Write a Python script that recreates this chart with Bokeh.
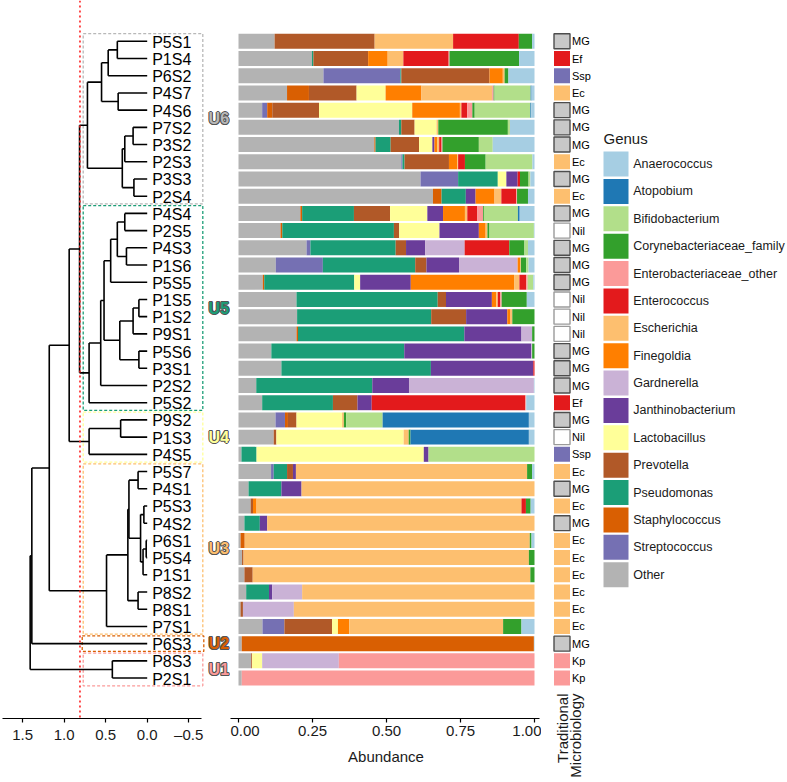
import math
from bokeh.plotting import figure
from bokeh.models import Range1d, ColumnDataSource, Span, FixedTicker
from bokeh.layouts import row
from bokeh.embed import file_html
from bokeh.resources import INLINE
from bokeh.core.properties import value

# ---------------- data ----------------
samples = ["P5S1", "P1S4", "P6S2", "P4S7", "P4S6", "P7S2", "P3S2", "P2S3", "P3S3", "P2S4",
           "P4S4", "P2S5", "P4S3", "P1S6", "P5S5", "P1S5", "P1S2", "P9S1", "P5S6", "P3S1",
           "P2S2", "P5S2", "P9S2", "P1S3", "P4S5", "P5S7", "P4S1", "P5S3", "P4S2", "P6S1",
           "P5S4", "P1S1", "P8S2", "P8S1", "P7S1", "P6S3", "P8S3", "P2S1"]

traditional = ["MG", "Ef", "Ssp", "Ec", "MG", "MG", "MG", "Ec", "MG", "Ec",
               "MG", "Nil", "MG", "MG", "MG", "Nil", "Nil", "Nil", "MG", "MG",
               "MG", "Ef", "MG", "Nil", "Ssp", "Ec", "MG", "Ec", "MG", "Ec",
               "Ec", "Ec", "Ec", "Ec", "Ec", "MG", "Kp", "Kp"]

clusters = ["U6", "U5", "U4", "U3", "U2", "U1"]
cluster_first = ["P5S1", "P4S4", "P9S2", "P5S7", "P6S3", "P8S3"]
cluster_last = ["P2S4", "P5S2", "P4S5", "P7S1", "P6S3", "P2S1"]
cluster_colors = ["#B8B8B8", "#1B9E77", "#FFFF99", "#FDBF6F", "#D95F02", "#FB9A99"]
cut_height = 0.81

# dendrogram merges (bottom-up), heights
dend_node = ["a1", "a2", "a3", "a4", "b1", "b2", "b3", "b4", "u6",
             "c1", "c2", "c3", "c4", "d1", "d2", "d3", "d4", "c5", "c6", "u5", "u65",
             "e1", "u4", "u654",
             "f1", "f2", "f3", "f4", "f5", "f6", "f7", "f8", "u3", "u6543",
             "g", "u1", "root"]
dend_left = ["P5S1", "a1", "P4S7", "a2", "P7S2", "b1", "P3S3", "b2", "a4",
             "P4S4", "P4S3", "c1", "c3", "P1S5", "d1", "P5S6", "d2", "c4", "c5", "c6", "u6",
             "P9S2", "e1", "u65",
             "P5S7", "P5S3", "P6S1", "f3", "f2", "f1", "P8S2", "f6", "f8", "u654",
             "u6543", "P8S3", "g"]
dend_right = ["P1S4", "P6S2", "P4S6", "a3", "P3S2", "P2S3", "P2S4", "b3", "b4",
              "P2S5", "P1S6", "c2", "P5S5", "P1S2", "P9S1", "P3S1", "d3", "d4", "P2S2", "P5S2", "u5",
              "P1S3", "P4S5", "u4",
              "P4S1", "P4S2", "P5S4", "P1S1", "f4", "f5", "P8S1", "f7", "P7S1", "u3",
              "P6S3", "P2S1", "u1"]
dend_height = [0.36, 0.47, 0.35, 0.55, 0.17, 0.27, 0.16, 0.30, 0.72,
               0.27, 0.25, 0.36, 0.44, 0.10, 0.17, 0.10, 0.33, 0.52, 0.56, 0.70, 0.815,
               0.32, 0.70, 0.94,
               0.11, 0.04, 0.012, 0.05, 0.08, 0.22, 0.11, 0.233, 0.49, 1.18,
               1.39, 0.42, 1.41]

# genus abundances, in sample order
other = [0.122, 0.248, 0.287, 0.164, 0.080, 0.542, 0.459, 0.550, 0.615, 0.657,
         0.209, 0.142, 0.230, 0.126, 0.082, 0.196, 0.198, 0.196, 0.111, 0.145,
         0.060, 0.080, 0.125, 0.119, 0.010, 0.110, 0.034, 0.041, 0.020, 0.007,
         0.012, 0.020, 0.026, 0.007, 0.081, 0.011, 0.043, 0.011]
streptococcus = [0, 0, 0.260, 0, 0.017, 0, 0, 0.004, 0.127, 0,
                 0, 0, 0.013, 0.159, 0, 0, 0, 0, 0, 0,
                 0, 0, 0.032, 0, 0, 0.009, 0, 0, 0, 0,
                 0, 0, 0, 0, 0.074, 0, 0, 0]
staphylococcus = [0, 0, 0, 0.074, 0.017, 0, 0.004, 0, 0, 0.029,
                  0.006, 0.006, 0, 0, 0.005, 0, 0, 0.005, 0, 0,
                  0, 0, 0.010, 0, 0, 0, 0, 0, 0, 0.014,
                  0, 0, 0, 0, 0, 0.987, 0, 0]
pseudomonas = [0, 0.005, 0.003, 0, 0, 0.008, 0.051, 0.007, 0.134, 0.082,
               0.175, 0.377, 0.288, 0.312, 0.304, 0.477, 0.453, 0.562, 0.449, 0.505,
               0.392, 0.239, 0, 0, 0.051, 0.045, 0.111, 0, 0.052, 0,
               0, 0, 0.077, 0, 0, 0, 0, 0]
prevotella = [0.338, 0.185, 0.298, 0.161, 0.158, 0.045, 0.096, 0.150, 0, 0,
              0.122, 0.018, 0.035, 0.038, 0, 0.028, 0.118, 0, 0, 0,
              0, 0.083, 0.029, 0.009, 0, 0.020, 0, 0.008, 0, 0,
              0.005, 0.028, 0, 0.008, 0.161, 0, 0.003, 0]
lactobacillus = [0, 0, 0, 0.098, 0.315, 0.074, 0.045, 0, 0.029, 0,
                 0.126, 0.136, 0, 0, 0.020, 0, 0, 0, 0, 0,
                 0, 0, 0.154, 0.430, 0.565, 0, 0, 0, 0, 0,
                 0, 0, 0, 0, 0.020, 0, 0.034, 0]
janthinobacterium = [0, 0, 0, 0, 0, 0, 0.007, 0, 0.038, 0.033,
                     0.053, 0.133, 0.065, 0.110, 0.171, 0.155, 0.139, 0.193, 0.429, 0.346,
                     0.124, 0.048, 0, 0, 0.016, 0.010, 0.068, 0, 0.025, 0,
                     0, 0, 0.011, 0, 0, 0, 0, 0]
gardnerella = [0, 0, 0, 0, 0, 0, 0, 0, 0, 0,
               0, 0, 0.133, 0.198, 0, 0, 0, 0.036, 0.003, 0,
               0.422, 0, 0, 0, 0, 0, 0, 0, 0, 0,
               0, 0, 0.101, 0.172, 0, 0, 0.259, 0]
finegoldia = [0, 0.066, 0.045, 0.121, 0.161, 0, 0.009, 0.028, 0, 0.064,
              0.074, 0.023, 0, 0.009, 0.349, 0.015, 0.011, 0, 0, 0,
              0, 0, 0, 0, 0, 0, 0, 0.012, 0, 0,
              0, 0, 0, 0, 0.038, 0, 0, 0]
escherichia = [0.265, 0.053, 0.006, 0.239, 0.005, 0.006, 0.007, 0.003, 0, 0.023,
               0.008, 0.006, 0, 0.002, 0.018, 0.005, 0.006, 0, 0, 0,
               0, 0, 0.006, 0.017, 0, 0.781, 0.787, 0.895, 0.903, 0.963,
               0.964, 0.938, 0.785, 0.813, 0.520, 0, 0, 0]
enterococcus = [0.222, 0.153, 0, 0, 0.020, 0, 0.008, 0.023, 0.008, 0.050,
                0.034, 0, 0.151, 0, 0.023, 0.008, 0, 0, 0, 0.004,
                0, 0.519, 0, 0, 0, 0, 0, 0.015, 0, 0,
                0, 0, 0, 0, 0, 0, 0, 0]
enterobacteriaceae_other = [0, 0.003, 0, 0.005, 0.017, 0, 0.003, 0, 0, 0.003,
                            0.019, 0, 0, 0, 0.005, 0.005, 0, 0, 0, 0,
                            0, 0.003, 0, 0, 0, 0, 0, 0, 0, 0,
                            0, 0, 0, 0, 0, 0, 0.661, 0.989]
corynebacteriaceae = [0.045, 0.235, 0.013, 0.003, 0.008, 0.235, 0.123, 0.070, 0.029, 0.037,
                      0.003, 0.007, 0.051, 0.018, 0, 0.085, 0.075, 0.008, 0.008, 0,
                      0, 0, 0.008, 0.006, 0, 0.017, 0, 0.016, 0, 0.006,
                      0.019, 0.014, 0, 0, 0.062, 0, 0, 0]
bifidobacterium = [0, 0, 0, 0.122, 0.188, 0.007, 0.047, 0.158, 0.006, 0,
                   0.115, 0.150, 0.012, 0.008, 0.019, 0, 0, 0, 0, 0,
                   0, 0, 0.123, 0, 0.358, 0, 0, 0, 0, 0,
                   0, 0, 0, 0, 0, 0, 0, 0]
atopobium = [0, 0, 0, 0.003, 0.003, 0, 0, 0, 0, 0,
             0.006, 0, 0, 0, 0, 0, 0, 0, 0, 0,
             0, 0, 0.494, 0.400, 0, 0, 0, 0, 0, 0,
             0, 0, 0, 0, 0, 0, 0, 0]
anaerococcus = [0.008, 0.052, 0.088, 0.010, 0.011, 0.083, 0.141, 0.007, 0.014, 0.022,
                0.050, 0.002, 0.022, 0.020, 0.004, 0.026, 0, 0, 0, 0,
                0.002, 0.028, 0.019, 0.019, 0, 0.008, 0, 0.013, 0, 0.010,
                0, 0, 0, 0, 0.044, 0.002, 0, 0]

legend_names = ["Anaerococcus", "Atopobium", "Bifidobacterium", "Corynebacteriaceae_family",
                "Enterobacteriaceae_other", "Enterococcus", "Escherichia", "Finegoldia",
                "Gardnerella", "Janthinobacterium", "Lactobacillus", "Prevotella",
                "Pseudomonas", "Staphylococcus", "Streptococcus", "Other"]
legend_colors = ["#A6CEE3", "#1F78B4", "#B2DF8A", "#33A02C", "#FB9A99", "#E31A1C", "#FDBF6F",
                 "#FF7F00", "#CAB2D6", "#6A3D9A", "#FFFF99", "#B15928", "#1B9E77", "#D95F02",
                 "#7570B3", "#B3B3B3"]
genus_values = {
    "Anaerococcus": anaerococcus, "Atopobium": atopobium, "Bifidobacterium": bifidobacterium,
    "Corynebacteriaceae_family": corynebacteriaceae,
    "Enterobacteriaceae_other": enterobacteriaceae_other, "Enterococcus": enterococcus,
    "Escherichia": escherichia, "Finegoldia": finegoldia, "Gardnerella": gardnerella,
    "Janthinobacterium": janthinobacterium, "Lactobacillus": lactobacillus,
    "Prevotella": prevotella, "Pseudomonas": pseudomonas, "Staphylococcus": staphylococcus,
    "Streptococcus": streptococcus, "Other": other,
}
trad_fill = {"MG": "#C8C8C8", "Nil": "#FFFFFF", "Ef": "#E31A1C", "Ssp": "#7570B3",
             "Ec": "#FDBF6F", "Kp": "#FB9A99"}
trad_line = {"MG": "#4D4D4D", "Nil": "#9A9A9A", "Ef": None, "Ssp": None, "Ec": None, "Kp": None}
trad_title = ["Traditional", "Microbiology"]

# ---------------- layout constants (page pixels) ----------------
FONT = "Liberation Sans"
N = len(samples)
TOP = N - 1
ROW_PX = 17.21
ROW0 = 40.8          # centre of first row, px below page top
FIG_H = 780
AXIS_Y = 718         # bottom of every plot frame (axis line position)
BAR_H = 0.87


def yrange():
    return Range1d(start=TOP - (AXIS_Y - ROW0) / ROW_PX, end=TOP + ROW0 / ROW_PX)


def make_fig(w, xr, yr, xaxis):
    p = figure(width=w, height=FIG_H, x_range=xr, y_range=yr, output_backend="svg",
               toolbar_location=None, x_axis_location=("below" if xaxis else None),
               y_axis_location=None, min_border_left=0, min_border_right=0,
               min_border_top=0, min_border_bottom=(FIG_H - AXIS_Y))
    p.outline_line_color = None
    p.background_fill_color = "white"
    p.border_fill_color = "white"
    for g in p.grid:
        g.visible = False
    return p


def style_axis(ax, ticks, labels, bounds):
    ax.ticker = FixedTicker(ticks=ticks)
    ax.major_label_overrides = {t: l for t, l in zip(ticks, labels)}
    ax.bounds = bounds
    ax.axis_line_color = "black"
    ax.axis_line_width = 1.2
    ax.major_tick_line_color = "black"
    ax.major_tick_line_width = 1.2
    ax.major_tick_out = 4
    ax.major_tick_in = 0
    ax.minor_tick_line_color = None
    ax.major_label_text_font = FONT
    ax.major_label_text_font_size = "15px"
    ax.major_label_text_color = "#1a1a1a"
    ax.major_label_standoff = 3


row_y = {s: TOP - i for i, s in enumerate(samples)}

# ---------------- dendrogram ----------------
D_W = 230
H_PER_PX = 83.0
LEAF_PX = 146.7
dend = make_fig(D_W, Range1d(start=LEAF_PX / H_PER_PX, end=(LEAF_PX - D_W) / H_PER_PX),
                yrange(), True)
style_axis(dend.xaxis[0], [1.5, 1.0, 0.5, 0.0, -0.5], ["1.5", "1.0", "0.5", "0.0", "\u20130.5"],
           (-0.65, (LEAF_PX - 2) / H_PER_PX))

info = {}
seg = dict(x0=[], y0=[], x1=[], y1=[])
for n, l, r, h in zip(dend_node, dend_left, dend_right, dend_height):
    yl, hl = info[l] if l in info else (row_y[l], 0.0)
    yr_, hr = info[r] if r in info else (row_y[r], 0.0)
    for (a, b, c, d) in [(hl, yl, h, yl), (hr, yr_, h, yr_), (h, yl, h, yr_)]:
        seg["x0"].append(a); seg["y0"].append(b); seg["x1"].append(c); seg["y1"].append(d)
    info[n] = ((yl + yr_) / 2.0, h)

# cluster boxes
pad = 0.45
boxes = dict(left=[], right=[], top=[], bottom=[], color=[])
for name, f, l, c in zip(clusters, cluster_first, cluster_last, cluster_colors):
    wide = 0.012 if f == l else 0.0
    boxes["left"].append(0.771 + wide)
    boxes["right"].append(-0.67 - wide)
    boxes["top"].append(row_y[f] + pad)
    boxes["bottom"].append(row_y[l] - pad)
    boxes["color"].append(c)
dend.quad(left="left", right="right", top="top", bottom="bottom", source=ColumnDataSource(boxes),
          fill_color=None, line_color="color", line_dash="3 2", line_width=1.3)

dend.add_layout(Span(location=cut_height, dimension="height", line_color="#FF2020",
                     line_dash="2 3", line_width=1.6))
dend.segment(x0="x0", y0="y0", x1="x1", y1="y1", source=ColumnDataSource(seg),
             line_color="black", line_width=1.6)

dend.text(x=[0.0] * N, y=[row_y[s] for s in samples], text=samples, x_offset=5, y_offset=1,
          text_font=value(FONT), text_font_size="16px", text_baseline="middle",
          text_align="left", text_color="black")

lab_x = [-0.74] * len(clusters)
lab_y = [(row_y[f] + row_y[l]) / 2.0 for f, l in zip(cluster_first, cluster_last)]
for dx, dy in [(-1, 0), (1, 0), (0, -1), (0, 1), (-0.7, -0.7), (0.7, 0.7), (-0.7, 0.7), (0.7, -0.7)]:
    dend.text(x=lab_x, y=lab_y, text=clusters, x_offset=dx, y_offset=dy,
              text_font=value(FONT), text_font_size="16px", text_font_style="bold",
              text_baseline="middle", text_align="left", text_color="#555555")
dend.text(x=lab_x, y=lab_y, text=clusters, text_font=value(FONT), text_font_size="16px",
          text_font_style="bold", text_baseline="middle", text_align="left",
          text_color=cluster_colors)

# ---------------- stacked bars ----------------
B_W = 311
B_PX = 296.0
B_X0 = 8.0
bars = make_fig(B_W, Range1d(start=-B_X0 / B_PX, end=(B_W - B_X0) / B_PX), yrange(), True)
style_axis(bars.xaxis[0], [0, 0.25, 0.5, 0.75, 1.0], ["0.00", "0.25", "0.50", "0.75", "1.00"],
           (-B_X0 / B_PX, 1.017))
bars.xaxis.axis_label = "Abundance"
bars.xaxis.axis_label_text_font = FONT
bars.xaxis.axis_label_text_font_size = "15px"
bars.xaxis.axis_label_text_font_style = "normal"
bars.xaxis.axis_label_text_color = "#1a1a1a"
bars.xaxis.axis_label_standoff = 9

stack_order = ["Other"] + list(reversed(legend_names[:-1]))
stack_colors = [legend_colors[legend_names.index(g)] for g in stack_order]
bar_src = dict(y=[row_y[s] for s in samples])
for g in stack_order:
    bar_src[g] = genus_values[g]
bars.hbar_stack(stack_order, y="y", height=BAR_H, fill_color=stack_colors, line_color=None,
                source=ColumnDataSource(bar_src))

# ---------------- traditional microbiology ----------------
T_W = 57
trad = make_fig(T_W, Range1d(0, T_W), yrange(), True)
ty = [row_y[s] for s in samples]
trad.quad(left=[12.5] * N, right=[28.5] * N, top=[y + BAR_H / 2 for y in ty],
          bottom=[y - BAR_H / 2 for y in ty],
          fill_color=[trad_fill[t] for t in traditional],
          line_color=[trad_line[t] for t in traditional], line_width=1.4)
trad.text(x=[30.5] * N, y=ty, text=traditional, text_font=value(FONT),
          text_font_size="11px", text_baseline="middle", text_align="left", text_color="black")
# the rotated two-word title is drawn as the (invisible) x axis' vertical tick labels
tax = trad.xaxis[0]
tax.ticker = FixedTicker(ticks=[21, 34])
tax.major_label_overrides = {21: trad_title[0], 34: trad_title[1]}
tax.major_label_orientation = math.pi / 2
tax.major_label_standoff = -25
tax.major_label_text_font = FONT
tax.major_label_text_font_size = "15px"
tax.major_label_text_color = "#1a1a1a"
tax.axis_line_color = None
tax.major_tick_line_color = None
tax.minor_tick_line_color = None
tax.major_tick_out = 0
tax.major_tick_in = 0

# ---------------- legend ----------------
L_W = 189
leg = make_fig(L_W, Range1d(0, L_W), Range1d(start=AXIS_Y, end=0), False)
leg.text(x=[5], y=[138], text=["Genus"], text_font=value(FONT), text_font_size="15px",
         text_baseline="middle", text_align="left", text_color="#1a1a1a")
k = list(range(len(legend_names)))
step = 27.38
leg.quad(left=[5] * len(k), right=[30] * len(k), top=[151 + i * step for i in k],
         bottom=[176 + i * step for i in k], fill_color=legend_colors, line_color=None)
leg.text(x=[34.7] * len(k), y=[163.5 + i * step for i in k], text=legend_names,
         text_font=value(FONT), text_font_size="12.5px", text_baseline="middle",
         text_align="left", text_color="#1a1a1a")

layout = row(dend, bars, trad, leg)
open("out.html", "w").write(file_html(layout, INLINE))
